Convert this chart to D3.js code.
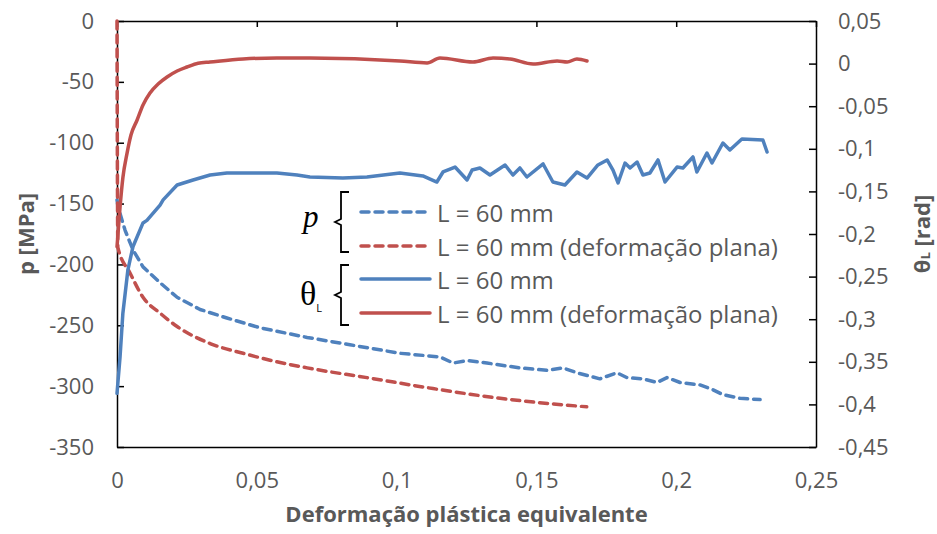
<!DOCTYPE html>
<html>
<head>
<meta charset="utf-8">
<script src="https://cdn.jsdelivr.net/npm/d3@7"></script>
<style>
  body { margin: 0; background: #fff; }
  .tick text { fill: #595959; font-family: "Open Sans", sans-serif; font-size: 22px; }
  .axis path, .axis line { stroke: #000; stroke-width: 1.5; }
  .title { fill: #595959; font-family: "Open Sans", sans-serif; font-size: 22px; font-weight: bold; }
  .leg { fill: #595959; font-family: "Open Sans", sans-serif; font-size: 24px; }
</style>
</head>
<body>
<div id="chart"></div>
<script>
// tick values
const xTicks = [0, 0.05, 0.1, 0.15, 0.2, 0.25];
const pTicks = [0, -50, -100, -150, -200, -250, -300, -350];
const thTicks = [0.05, 0, -0.05, -0.1, -0.15, -0.2, -0.25, -0.3, -0.35, -0.4, -0.45];

// p [MPa], L = 60 mm (dashed blue)
const pL60 = [
  [0, -147], [0.0004, -153], [0.0029, -172], [0.0057, -188], [0.0093, -202], [0.0154, -215],
  [0.0215, -227], [0.0297, -237], [0.0393, -244], [0.0511, -252], [0.068, -260], [0.0833, -266],
  [0.1012, -273], [0.1155, -276], [0.1202, -281], [0.1252, -279], [0.1323, -281], [0.1441, -285],
  [0.1538, -287], [0.1595, -285], [0.1645, -289], [0.1727, -294], [0.1788, -289], [0.1824, -293],
  [0.1881, -294], [0.1931, -297], [0.1967, -293], [0.2014, -297], [0.2085, -299], [0.2132, -303],
  [0.2167, -307], [0.2228, -310], [0.23, -311]
];

// p [MPa], L = 60 mm plane strain (dashed red)
const pL60plane = [
  [0, 0], [0.0003, -186], [0.00465, -207], [0.0093, -227], [0.0154, -240], [0.0215, -251],
  [0.0333, -265], [0.0451, -273], [0.0572, -280], [0.068, -285], [0.0894, -293], [0.113, -302],
  [0.137, -310], [0.168, -317]
];

// thetaL [rad], L = 60 mm (solid blue)
const thL60 = [
  [0, -0.387], [0.0011, -0.344], [0.0021, -0.293], [0.0039, -0.242], [0.0057, -0.215],
  [0.0093, -0.187], [0.0107, -0.184], [0.0154, -0.166], [0.0165, -0.160], [0.0215, -0.1425],
  [0.0272, -0.1366], [0.0333, -0.1308], [0.0393, -0.1284], [0.0476, -0.1284], [0.0572, -0.1284],
  [0.0644, -0.1308], [0.069, -0.1331], [0.0808, -0.1343], [0.0894, -0.1331], [0.1012, -0.1284],
  [0.1094, -0.1319], [0.1144, -0.139], [0.1166, -0.1272], [0.1209, -0.1214], [0.1252, -0.1366],
  [0.127, -0.1249], [0.1298, -0.1225], [0.1334, -0.1308], [0.1388, -0.119], [0.1416, -0.1308],
  [0.1441, -0.1225], [0.1466, -0.1331], [0.1524, -0.1178], [0.1559, -0.139], [0.1602, -0.1425],
  [0.1645, -0.1272], [0.1681, -0.1343], [0.172, -0.119], [0.1753, -0.1131], [0.1774, -0.1249],
  [0.1792, -0.1401], [0.1817, -0.1167], [0.1835, -0.1225], [0.186, -0.1155], [0.1881, -0.1308],
  [0.1906, -0.1284], [0.1935, -0.1131], [0.196, -0.139], [0.2003, -0.1214], [0.2024, -0.1225],
  [0.206, -0.1096], [0.2074, -0.1272], [0.211, -0.1049], [0.2128, -0.1167], [0.2167, -0.0932],
  [0.2192, -0.1014], [0.2235, -0.0885], [0.231, -0.0897], [0.2325, -0.1038]
];

// thetaL [rad], L = 60 mm plane strain (solid red)
const thL60plane = [
  [0, -0.215], [0.0011, -0.168], [0.0021, -0.134], [0.0036, -0.105], [0.005, -0.0838],
  [0.0072, -0.0662], [0.0093, -0.0486], [0.0118, -0.0345], [0.0147, -0.024], [0.0179, -0.0157],
  [0.0215, -0.0087], [0.025, -0.004], [0.029, 0.0005], [0.0333, 0.0019], [0.0451, 0.0054],
  [0.0572, 0.0066], [0.069, 0.0066], [0.1012, 0.0031], [0.1109, 0.0007], [0.1155, 0.0066],
  [0.1273, 0.0019], [0.1345, 0.0066], [0.1406, 0.0054], [0.1488, -0.0005], [0.1574, 0.0031],
  [0.161, 0.0019], [0.1645, 0.0054], [0.1681, 0.0031]
];

const blue = "#4F81BD", red = "#C0504D";

const margin = { top: 21, right: 121, bottom: 87, left: 117 };
const W = 937, H = 534;
const width = W - margin.left - margin.right,
    height = H - margin.top - margin.bottom;

const svg = d3.select("#chart").append("svg")
    .attr("width", W).attr("height", H)
    .append("g")
    .attr("transform", "translate(" + margin.left + "," + margin.top + ")");

const x = d3.scaleLinear().domain([0, 0.25]).range([0, width]);
const yP = d3.scaleLinear().domain([-350, 0]).range([height, 0]);
const yT = d3.scaleLinear().domain([-0.45, 0.05]).range([height, 0]);

const fmt = d => String(d).replace(".", ",");

// left axis
svg.append("g").attr("class", "axis")
    .call(d3.axisLeft(yP).tickValues(pTicks).tickFormat(fmt).tickSizeInner(-7).tickSizeOuter(0).tickPadding(23));

// right axis
svg.append("g").attr("class", "axis")
    .attr("transform", "translate(" + width + ",0)")
    .call(d3.axisRight(yT).tickValues(thTicks).tickFormat(fmt).tickSizeInner(-7).tickSizeOuter(0).tickPadding(22));

// horizontal axis at p = 0 (ticks only)
svg.append("g").attr("class", "axis")
    .call(d3.axisTop(x).tickValues(xTicks).tickFormat("").tickSizeInner(-6).tickSizeOuter(0));

// bottom line with labels
svg.append("g").attr("class", "axis")
    .attr("transform", "translate(0," + height + ")")
    .call(d3.axisBottom(x).tickValues(xTicks).tickFormat(fmt).tickSize(0).tickPadding(25));

// curves
const lineP = d3.line().x(d => x(d[0])).y(d => yP(d[1]));
const lineT = d3.line().x(d => x(d[0])).y(d => yT(d[1]));
const smoothP = d3.line().curve(d3.curveMonotoneX).x(d => x(d[0])).y(d => yP(d[1]));
const smoothT = d3.line().curve(d3.curveMonotoneX).x(d => x(d[0])).y(d => yT(d[1]));

const series = [
  { data: pL60, line: lineP, color: blue, dash: "8,6" },
  { data: pL60plane, line: smoothP, color: red, dash: "8,6" },
  { data: thL60, line: lineT, color: blue, dash: null },
  { data: thL60plane, line: smoothT, color: red, dash: null }
];

series.forEach(s => {
  svg.append("path")
    .datum(s.data)
    .attr("d", s.line)
    .attr("fill", "none")
    .attr("stroke", s.color)
    .attr("stroke-width", 3.5)
    .attr("stroke-linejoin", "round")
    .attr("stroke-linecap", "round")
    .attr("stroke-dasharray", s.dash);
});

// axis titles
svg.append("text").attr("class", "title")
    .attr("transform", "translate(" + (-92) + "," + (height / 2) + ") rotate(-90)")
    .attr("text-anchor", "middle").attr("dominant-baseline", "central")
    .text("p [MPa]");

const rt = svg.append("text").attr("class", "title")
    .attr("transform", "translate(" + (width + 105) + "," + (height / 2) + ") rotate(-90)")
    .attr("text-anchor", "middle").attr("dominant-baseline", "central");
rt.append("tspan").text("θ");
rt.append("tspan").attr("font-size", "13px").attr("dy", 4).text("L");
rt.append("tspan").attr("dy", -4).text(" [rad]");

svg.append("text").attr("class", "title")
    .attr("x", width / 2).attr("y", height + 75)
    .attr("text-anchor", "middle")
    .text("Deformação plástica equivalente");

// legend
const legItems = [
  { label: "L = 60 mm", color: blue, dash: "8,6" },
  { label: "L = 60 mm (deformação plana)", color: red, dash: "8,6" },
  { label: "L = 60 mm", color: blue, dash: null },
  { label: "L = 60 mm (deformação plana)", color: red, dash: null }
];
const legY = [191, 225, 258, 292];
const leg = svg.append("g").attr("transform", "translate(244,0)");

legItems.forEach((d, i) => {
  leg.append("line")
    .attr("x1", 0).attr("x2", 69)
    .attr("y1", legY[i]).attr("y2", legY[i])
    .attr("stroke", d.color).attr("stroke-width", 3.5)
    .attr("stroke-linecap", "round")
    .attr("stroke-dasharray", d.dash);
  leg.append("text").attr("class", "leg")
    .attr("x", 76).attr("y", legY[i])
    .attr("dominant-baseline", "central")
    .text(d.label);
});

// braces
function brace(yTop, yBot) {
  const xm = -20, yc = (yTop + yBot) / 2;
  return "M" + (xm + 8) + "," + yTop + " H" + xm + " V" + (yc - 3) + " L" + (xm - 6) + "," + yc +
         " L" + xm + "," + (yc + 3) + " V" + yBot + " H" + (xm + 8);
}
leg.append("path").attr("d", brace(171, 231))
    .attr("fill", "none").attr("stroke", "#000").attr("stroke-width", 1.8);
leg.append("path").attr("d", brace(244, 304))
    .attr("fill", "none").attr("stroke", "#000").attr("stroke-width", 1.8);

leg.append("text")
    .attr("x", -58).attr("y", 206)
    .attr("font-family", "Liberation Serif, serif")
    .attr("font-style", "italic").attr("font-size", "31px")
    .attr("fill", "#000")
    .text("p");

const th = leg.append("text")
    .attr("x", -61).attr("y", 284)
    .attr("font-family", "Liberation Serif, serif")
    .attr("font-size", "34px").attr("fill", "#000");
th.append("tspan").text("θ");
th.append("tspan").attr("font-size", "11px").attr("font-family", "Open Sans, sans-serif")
    .attr("dy", 7).text("L");
</script>
</body>
</html>
